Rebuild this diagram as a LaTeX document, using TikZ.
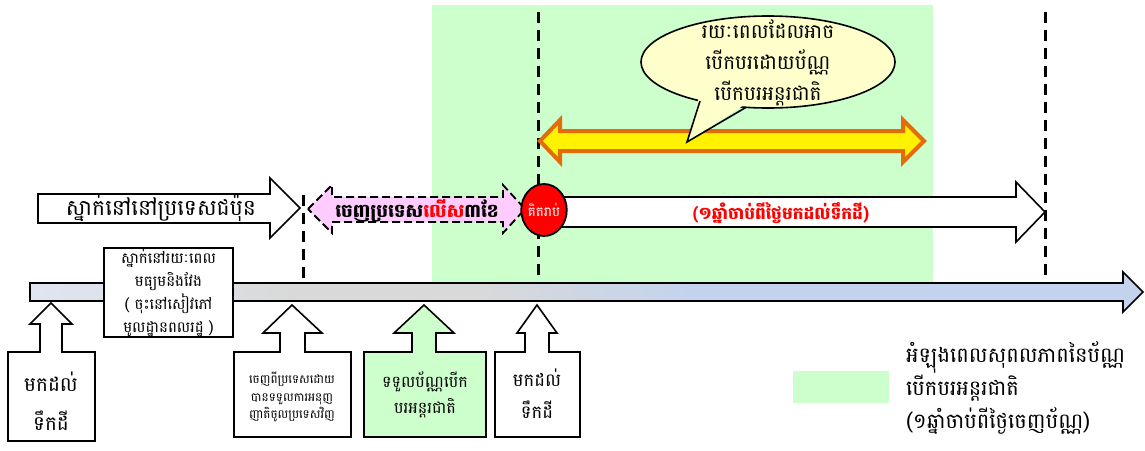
\documentclass[tikz,border=0pt]{standalone}
\usepackage{fontspec}
\setmainfont[Script=Khmer]{Battambang}
\usetikzlibrary{shapes.geometric}
\definecolor{gbg}{HTML}{CCFFCC}
\definecolor{pinkf}{HTML}{FFCCFF}
\definecolor{orangeo}{HTML}{E36C09}
\definecolor{bubf}{HTML}{FFFFCC}
\definecolor{tlA}{HTML}{DFE6F2}
\definecolor{tlB}{HTML}{D9D9D9}
\definecolor{tlC}{HTML}{C3D3EE}
\pgfdeclarehorizontalshading{tlshade}{100bp}{color(0bp)=(tlA); color(25bp)=(tlA); color(37bp)=(tlB); color(45bp)=(tlB); color(55bp)=(tlC); color(75bp)=(tlC); color(100bp)=(tlC)}
\begin{document}
\begin{tikzpicture}[x=1pt,y=-1pt,
  outl/.style={draw=black, line width=1.6pt, line join=miter},
  vdash/.style={draw=black, line width=3pt, dash pattern=on 11pt off 7pt},
  txt/.style={inner sep=0pt, align=center, text=black}]
\useasboundingbox (0,0) rectangle (1145,450);
% green validity period
\fill[gbg] (432,5) rectangle (933,283);
% dashed markers
\coordinate (d1t) at (303,195); \coordinate (d1b) at (303,283);
\coordinate (d2t) at (538,12);  \coordinate (d2b) at (538,283);
\coordinate (d3t) at (1045,12); \coordinate (d3b) at (1045,283);
\draw[vdash] (d1t) -- (d1b);
\draw[vdash] (d2t) -- (d2b);
\draw[vdash] (d3t) -- (d3b);
% timeline
\path[shade, shading=tlshade, draw=black, line width=1.6pt, line join=miter]
  (30,283) -- (1123,283) -- (1123,272) -- (1143,292) -- (1123,312) -- (1123,301) -- (30,301) -- cycle;
% stay in Japan arrow
\draw[outl, fill=white] (38,194) -- (270,194) -- (270,178) -- (300,208) -- (270,238) -- (270,223) -- (38,223) -- cycle;
\node[txt, font=\fontsize{22}{26}\selectfont] (stay) at (161,208) {ស្នាក់នៅនៅប្រទេសជប៉ុន};
% pink double arrow
\draw[draw=black, line width=1.8pt, dash pattern=on 8pt off 4pt, fill=pinkf, line join=miter]
  (308,209) -- (332,185) -- (332,197) -- (503,197) -- (503,185) -- (525,209) -- (503,233) -- (503,222) -- (332,222) -- (332,233) -- cycle;
\node[txt, font=\bfseries\fontsize{18.5}{22}\selectfont] (leave) at (417,211) {ចេញប្រទេស\textcolor{red}{លើស}៣ខែ};
% one year arrow
\draw[outl, fill=white] (548,197) -- (1016,197) -- (1016,182) -- (1045,212) -- (1016,242) -- (1016,227) -- (548,227) -- cycle;
\node[txt, text=red, font=\bfseries\fontsize{17}{22}\selectfont] (year) at (781,213) {(១ឆ្នាំចាប់ពីថ្ងៃមកដល់ទឹកដី)};
\node[ellipse, draw=black, line width=1.8pt, fill=red, minimum width=44pt, minimum height=52pt, inner sep=0pt, text=white, font=\fontsize{13.5}{16}\selectfont] (count) at (544,210) {គិតរាប់};
% yellow double arrow
\draw[draw=orangeo, line width=4pt, fill=yellow, line join=miter]
  (540,141) -- (560,120) -- (560,131) -- (903,131) -- (903,120) -- (924,141) -- (903,162) -- (903,151) -- (560,151) -- (560,162) -- cycle;
% speech bubble
\draw[line width=1.6pt, fill=bubf] (768,62) ellipse [x radius=127pt, y radius=46pt];
\fill[bubf] (699,97) -- (687,142) -- (747,103) -- cycle;
\coordinate (tl) at (700,101); \coordinate (tip) at (687,142); \coordinate (tr) at (746,107.3);
\draw[line width=1.6pt, line join=miter] (tl) -- (tip) -- (tr);
\node[txt, font=\fontsize{20}{31}\selectfont] (bubtxt) at (768,63) {រយៈពេលដែលអាច\\បើកបរដោយប័ណ្ណ\\បើកបរអន្តរជាតិ};
% residence box
\node[draw=black, line width=1.6pt, fill=white, minimum width=129pt, minimum height=89pt, inner sep=0pt, align=center, font=\fontsize{15}{23}\selectfont] (mid) at (168.5,292.5) {ស្នាក់នៅរយៈពេល\\មធ្យមនិងវែង\\( ចុះនៅសៀវភៅ\\មូលដ្ឋានពលរដ្ឋ )};
% callout 1
\draw[outl, fill=white] (8,352) -- (40,352) -- (40,324) -- (30,324) -- (51,303) -- (72,324) -- (62,324) -- (62,352) -- (95,352) -- (95,441) -- (8,441) -- cycle;
\node[txt, font=\fontsize{20}{39}\selectfont] (arr1) at (51,401) {មកដល់\\ទឹកដី};
% callout 2
\draw[outl, fill=white] (234,352) -- (280,352) -- (280,333) -- (263,333) -- (292,305) -- (322,333) -- (305,333) -- (305,352) -- (351,352) -- (351,437) -- (234,437) -- cycle;
\node[txt, font=\fontsize{12}{17.5}\selectfont] (reentry) at (292,397) {ចេញពីប្រទេសដោយ\\បានទទួលការអនុញ\\ញាតិចូលប្រទេសវិញ};
% callout 3
\draw[outl, fill=gbg] (364,352) -- (412,352) -- (412,333) -- (394,333) -- (424,305) -- (454,333) -- (436,333) -- (436,352) -- (486,352) -- (486,437) -- (364,437) -- cycle;
\node[txt, font=\fontsize{16}{26}\selectfont] (getlic) at (425,395) {ទទួលប័ណ្ណបើក\\បរអន្តរជាតិ};
% callout 4
\draw[outl, fill=white] (495,352) -- (525,352) -- (525,333) -- (517,333) -- (537,305) -- (557,333) -- (549,333) -- (549,352) -- (580,352) -- (580,437) -- (495,437) -- cycle;
\node[txt, font=\fontsize{18}{32}\selectfont] (arr2) at (537,394) {មកដល់\\ទឹកដី};
% legend
\fill[gbg] (793,371) rectangle (889,403);
\node[txt, anchor=west, align=left, font=\fontsize{21}{33}\selectfont] (legtxt) at (906,388) {អំឡុងពេលសុពលភាពនៃប័ណ្ណ\\បើកបរអន្តរជាតិ\\(១ឆ្នាំចាប់ពីថ្ងៃចេញប័ណ្ណ)};
\end{tikzpicture}
\end{document}
